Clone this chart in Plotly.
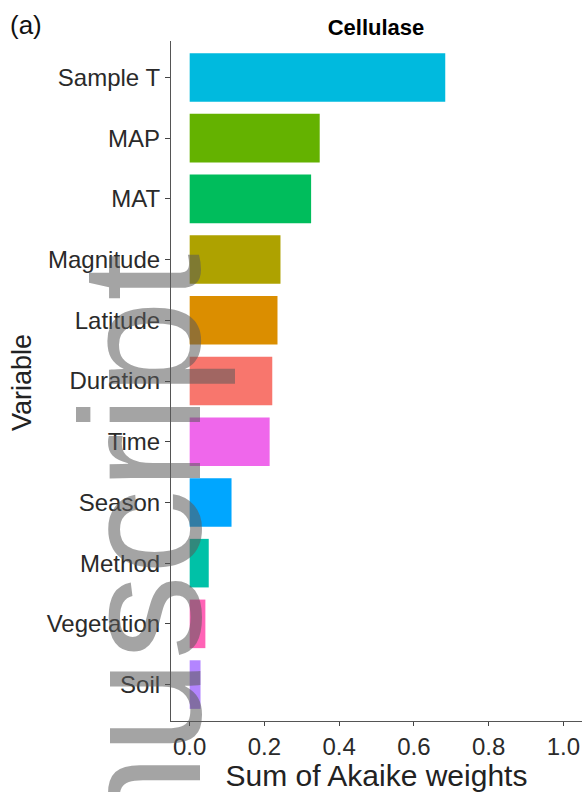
import plotly.graph_objects as go

# ---- data ----
variables = ["Sample T", "MAP", "MAT", "Magnitude", "Latitude", "Duration",
             "Time", "Season", "Method", "Vegetation", "Soil"]
weights = [0.684, 0.348, 0.325, 0.243, 0.235, 0.221, 0.214, 0.112, 0.051, 0.042, 0.029]
bar_colors = ["#00BADE", "#64B200", "#00BD5C", "#AEA200", "#DB8E00", "#F8766D",
              "#EF67EB", "#00A6FF", "#00C1A7", "#FF63B6", "#B385FF"]
x_ticks = [0.0, 0.2, 0.4, 0.6, 0.8, 1.0]
x_tick_labels = ["0.0", "0.2", "0.4", "0.6", "0.8", "1.0"]
title_text = "Cellulase"
x_title = "Sum of Akaike weights"
y_title = "Variable"
panel_label = "(a)"
watermark = "Manuscript"

W, H = 584, 792
ML, MR, MT, MB = 171, 2, 41, 71
PW, PH = W - ML - MR, H - MT - MB


def px_x(px):
    return (px - ML) / PW


def px_y(py):
    return (H - MB - py) / PH


FONT = "Liberation Sans, Arial, sans-serif"

fig = go.Figure(go.Bar(
    x=weights, y=variables, orientation="h",
    marker=dict(color=bar_colors, line=dict(width=0)),
    width=0.8,
))

fig.update_layout(
    width=W, height=H,
    margin=dict(l=ML, r=MR, t=MT, b=MB, pad=0),
    plot_bgcolor="white", paper_bgcolor="white",
    showlegend=False,
    font=dict(family=FONT, color="#000000"),
    title=dict(text="<b>" + title_text + "</b>", x=px_x(376), xref="paper",
               xanchor="center", y=1 - 27 / H, yref="container", yanchor="middle",
               font=dict(size=22, color="#000000", family=FONT)),
)

fig.update_xaxes(
    range=[-0.05, 1.05], tickmode="array", tickvals=x_ticks, ticktext=x_tick_labels,
    showline=True, linecolor="#555555", linewidth=1.2, mirror=False,
    ticks="outside", ticklen=4, tickcolor="#444444", tickwidth=1,
    showgrid=False, zeroline=False,
    tickfont=dict(size=24, color="#2a2a2a", family=FONT),
    title=dict(text=x_title, font=dict(size=30, color="#222222", family=FONT), standoff=3),
)

fig.update_yaxes(
    type="category", categoryorder="array", categoryarray=variables,
    range=[len(variables) - 0.4, -0.6], autorange=False,
    showline=True, linecolor="#555555", linewidth=1.2,
    ticks="outside", ticklen=5, tickcolor="#444444", tickwidth=1,
    showgrid=False, zeroline=False,
    tickfont=dict(size=24, color="#2a2a2a", family=FONT),
)

fig.add_annotation(
    text=y_title, xref="paper", yref="paper", x=px_x(22), y=px_y(383),
    xanchor="center", yanchor="middle", showarrow=False, textangle=-90,
    font=dict(size=27, color="#222222", family=FONT),
)

fig.add_annotation(
    text=panel_label, xref="paper", yref="paper", x=px_x(26), y=px_y(25),
    xanchor="center", yanchor="middle", showarrow=False,
    font=dict(size=26, color="#111111", family=FONT),
)

fig.add_annotation(
    text=watermark, xref="paper", yref="paper", x=px_x(141), y=px_y(670),
    xanchor="center", yanchor="middle", showarrow=False, textangle=-90,
    font=dict(size=170, color="rgba(90,90,90,0.55)", family=FONT),
)

fig.write_html("out.html")
